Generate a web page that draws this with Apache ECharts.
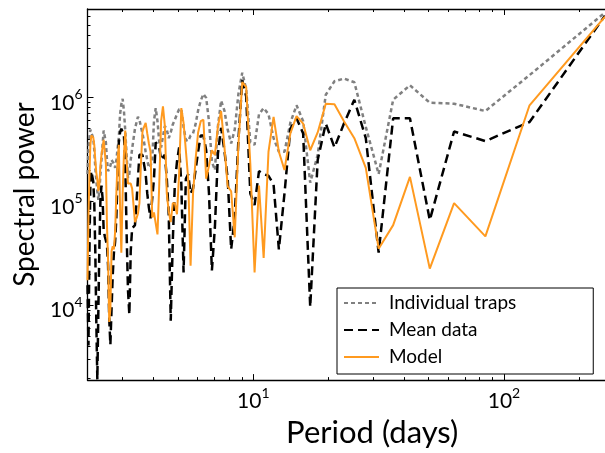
<!DOCTYPE html>
<html>
<head>
<meta charset="utf-8">
<script src="https://cdn.jsdelivr.net/npm/echarts@6/dist/echarts.min.js"></script>
<style>
html,body{margin:0;padding:0;background:#fff;}
#chart{width:605px;height:453px;}
</style>
</head>
<body>
<div id="chart"></div>
<script>
// Period (days), ascending
const periods = [
2.181,2.200,2.219,2.239,2.259,2.279,2.300,2.321,2.343,2.364,
2.387,2.410,2.433,2.456,2.480,2.505,2.530,2.556,2.582,2.608,
2.635,2.663,2.691,2.720,2.750,2.780,2.811,2.843,2.875,2.908,
2.942,2.976,3.012,3.048,3.085,3.123,3.163,3.203,3.244,3.286,
3.329,3.373,3.419,3.466,3.514,3.563,3.614,3.667,3.721,3.776,
3.833,3.892,3.953,4.016,4.081,4.148,4.217,4.288,4.362,4.439,
4.518,4.600,4.685,4.774,4.865,4.961,5.060,5.163,5.271,5.383,
5.500,5.622,5.750,5.884,6.024,6.171,6.325,6.487,6.658,6.838,
7.028,7.229,7.441,7.667,7.906,8.161,8.433,8.724,9.036,9.370,
9.731,10.12,10.54,11.00,11.50,12.05,12.65,13.32,14.06,14.88,
15.81,16.87,18.07,19.46,21.08,23.00,25.30,28.11,31.63,36.14,
42.17,50.60,63.25,84.33,126.5,253];

const individualTraps = [
1.83e5,3.1e5,4.1e5,4.9e5,4.9e5,4.7e5,4.05e5,3.1e5,2.1e5,1.61e5,
1.25e5,1.03e5,1.25e5,1.83e5,2.5e5,3.5e5,4.8e5,4.6e5,3.7e5,2.5e5,
1.95e5,1.95e5,2.2e5,2.5e5,2.5e5,2.3e5,2.1e5,2.5e5,3.2e5,4.1e5,
6.9e5,8.6e5,9.7e5,7.4e5,4.8e5,2.8e5,1.68e5,1.83e5,2.5e5,3.2e5,
4.0e5,5.0e5,5.7e5,6.5e5,6.1e5,5.2e5,4.5e5,3.7e5,3.0e5,2.5e5,
2.1e5,2.2e5,2.5e5,5.9e5,7.9e5,5.9e5,3.7e5,3.3e5,4.2e5,5.3e5,
4.9e5,4.05e5,4.6e5,5.5e5,6.1e5,6.9e5,7.7e5,7.7e5,5.2e5,3.9e5,
3.8e5,4.3e5,4.5e5,5.5e5,7.5e5,9.3e5,1.08e6,9.9e5,5.9e5,2.4e5,
2.0e5,5.3e5,9.3e5,7.5e5,4.9e5,3.6e5,4.9e5,1.08e6,1.73e6,1.2e6,
3.7e5,3.5e5,6.9e5,7.9e5,6.9e5,4.05e5,3.0e5,3.0e5,5.7e5,8.4e5,
5.9e5,1.51e5,2.8e5,1.06e6,1.43e6,1.52e6,1.40e6,5.2e5,1.83e5,9.5e5,
1.31e6,8.9e5,8.7e5,7.4e5,1.64e6,6.56e6];

const meanData = [
1.56e4,4.1e3,3.0e4,1.48e5,1.95e5,2.0e5,1.54e5,9.6e4,3.3e4,7.4e3,
1.92e3,9.2e3,3.7e4,1.03e5,1.42e5,1.07e5,5.3e4,4.6e4,4.2e4,3.8e4,
2.4e4,7.4e3,4.15e3,9.2e3,1.94e4,3.2e4,4.1e4,7.0e4,1.83e5,3.7e5,
4.6e5,5.0e5,5.1e5,4.3e5,2.3e5,5.1e4,1.41e4,8.1e3,3.3e4,5.5e4,
5.6e4,5.9e4,9.6e4,1.65e5,2.8e5,2.9e5,2.8e5,2.8e5,1.83e5,1.19e5,
8.7e4,6.85e4,1.07e5,1.65e5,3.7e5,3.6e5,3.3e5,2.5e5,2.4e5,2.8e5,
1.65e5,7.5e4,7.1e3,4.1e4,1.48e5,2.4e5,3.3e5,1.48e5,2.07e4,1.65e5,
1.83e5,1.19e5,1.33e5,2.0e5,3.0e5,4.3e5,4.3e5,3.1e5,1.19e5,2.16e4,
5.6e4,2.9e5,5.1e5,3.1e5,1.65e5,3.45e4,7.0e4,3.9e5,1.46e6,1.02e6,
1.19e5,9.2e4,1.95e5,1.83e5,1.76e5,1.45e5,3.45e4,1.19e5,5.0e5,6.3e5,
4.5e5,9.6e3,2.5e5,5.6e5,3.3e5,5.6e5,9.5e5,4.05e5,3.2e4,6.3e5,
6.3e5,6.6e4,4.7e5,3.8e5,5.8e5,6.12e6];

const model = [
1.74e4,7.0e4,1.65e5,3.5e5,4.3e5,4.4e5,4.1e5,3.5e5,2.5e5,1.9e5,
1.61e5,1.25e5,1.48e5,2.2e5,2.8e5,3.3e5,3.9e5,3.8e5,2.3e5,5.9e4,
2.7e4,6.9e3,9.2e3,3.3e4,3.7e4,3.45e4,5.1e4,1.19e5,2.5e5,3.5e5,
8.7e4,3.2e4,1.19e5,2.8e5,4.8e5,2.5e5,1.48e5,1.48e5,1.48e5,1.33e5,
9.2e4,6.3e4,6.85e4,7.6e4,9.6e4,2.3e5,4.7e5,5.2e5,5.7e5,4.5e5,
3.6e5,3.0e5,7.0e4,7.8e4,8.1e4,4.8e4,1.48e5,5.9e5,8.2e5,5.3e5,
1.19e5,8.0e4,6.3e4,9.6e4,9.6e4,7.5e4,1.83e5,7.9e5,5.7e5,3.1e5,
1.65e5,2.4e4,1.19e5,2.5e5,4.6e5,5.9e5,6.1e5,1.65e5,2.2e5,3.1e5,
2.8e5,5.3e5,7.4e5,3.4e5,1.39e5,1.25e5,4.5e4,3.5e5,1.40e6,1.26e6,
2.3e5,2.07e4,1.42e5,2.85e4,3.0e5,6.5e5,3.0e5,2.0e5,4.5e5,6.6e5,
5.6e5,3.1e5,4.6e5,8.7e5,8.6e5,5.9e5,4.05e5,2.1e5,3.5e4,5.9e4,
1.72e5,2.25e4,9.6e4,4.6e4,8.4e5,6.0e6];

const xMajorTicks = [10, 100];
const xMinorTicks = [3,4,5,6,7,8,9,20,30,40,50,60,70,80,90,200];
const yMajorTicks = [1e4, 1e5, 1e6];
const yMinorTicks = [2e3,3e3,4e3,5e3,6e3,7e3,8e3,9e3,
  2e4,3e4,4e4,5e4,6e4,7e4,8e4,9e4,
  2e5,3e5,4e5,5e5,6e5,7e5,8e5,9e5,
  2e6,3e6,4e6,5e6,6e6,7e6];
const yMin = 1.9e3, yMax = 7.1e6;

const FONT = 'Lato';
const pair = vals => periods.map((p, i) => [p, vals[i]]);
const powLabel = v => '{b|10}{s|' + Math.round(Math.log10(v)) + '}';
const rich = {
  b: {fontSize: 21, lineHeight: 26, verticalAlign: 'bottom', fontFamily: FONT, color: '#000'},
  s: {fontSize: 14, lineHeight: 14, verticalAlign: 'top', fontFamily: FONT, color: '#000'}
};
const lineS = {show: true, lineStyle: {color: '#000', width: 1.3}};

function xAx(pos, major, showLine, showLabel) {
  return {
    type: 'log', position: pos, min: periods[0], max: periods[periods.length - 1],
    axisLine: showLine ? lineS : {show: false},
    splitLine: {show: false},
    axisTick: {show: true, inside: true, length: major ? 6 : 3,
      customValues: major ? xMajorTicks : xMinorTicks, lineStyle: {color: '#000', width: 1}},
    axisLabel: showLabel ? {show: true, customValues: xMajorTicks, formatter: powLabel, rich: rich, margin: 6} : {show: false},
    name: showLabel ? 'Period (days)' : '',
    nameLocation: 'middle', nameGap: 6,
    nameTextStyle: {fontFamily: FONT, fontSize: 31, color: '#000', verticalAlign: 'top', padding: [0, 0, 0, 52]}
  };
}
function yAx(major, showLine, showLabel) {
  return {
    type: 'log', position: 'left', min: yMin, max: yMax,
    axisLine: showLine ? lineS : {show: false},
    splitLine: {show: false},
    axisTick: {show: true, inside: true, length: major ? 6 : 3,
      customValues: major ? yMajorTicks : yMinorTicks, lineStyle: {color: '#000', width: 1}},
    axisLabel: showLabel ? {show: true, customValues: yMajorTicks, formatter: powLabel, rich: rich, margin: 5, padding: [6, 0, 0, 0]} : {show: false},
    name: showLabel ? 'Spectral power' : '',
    nameLocation: 'middle', nameGap: 47, nameRotate: 90,
    nameTextStyle: {fontFamily: FONT, fontSize: 28, color: '#000'}
  };
}

const chart = echarts.init(document.getElementById('chart'), null, {renderer: 'canvas'});
chart.setOption({
  animation: false,
  backgroundColor: '#fff',
  textStyle: {fontFamily: FONT},
  grid: {left: 87.5, right: -6.5, top: 9, bottom: 59.5, containLabel: false},
  xAxis: [xAx('bottom', true, true, true), xAx('bottom', false, false, false),
          xAx('top', true, true, false), xAx('top', false, false, false)],
  yAxis: [yAx(true, true, true), yAx(false, false, false)],
  legend: {
    orient: 'vertical', left: 337, top: 288,
    backgroundColor: '#fff', borderColor: '#000', borderWidth: 1, borderRadius: 0,
    padding: [4, 77, 6, 6], itemGap: 5, itemWidth: 35, itemHeight: 14,
    itemStyle: {opacity: 0},
    textStyle: {fontFamily: FONT, fontSize: 19, lineHeight: 22, color: '#000', padding: [0, 0, 0, 5]},
    data: ['Individual traps', 'Mean data', 'Model']
  },
  series: [
    {name: 'Individual traps', type: 'line', xAxisIndex: 0, yAxisIndex: 0, symbol: 'none',
     data: pair(individualTraps), lineStyle: {color: '#808080', width: 2.5, type: [4, 3]}, itemStyle: {color: '#808080'}, z: 2},
    {name: 'Mean data', type: 'line', xAxisIndex: 0, yAxisIndex: 0, symbol: 'none',
     data: pair(meanData), lineStyle: {color: '#000', width: 2.5, type: [9, 5]}, itemStyle: {color: '#000'}, z: 3},
    {name: 'Model', type: 'line', xAxisIndex: 0, yAxisIndex: 0, symbol: 'none',
     data: pair(model), lineStyle: {color: '#FF9A1F', width: 2}, itemStyle: {color: '#FF9A1F'}, z: 4}
  ]
});
</script>
</body>
</html>
